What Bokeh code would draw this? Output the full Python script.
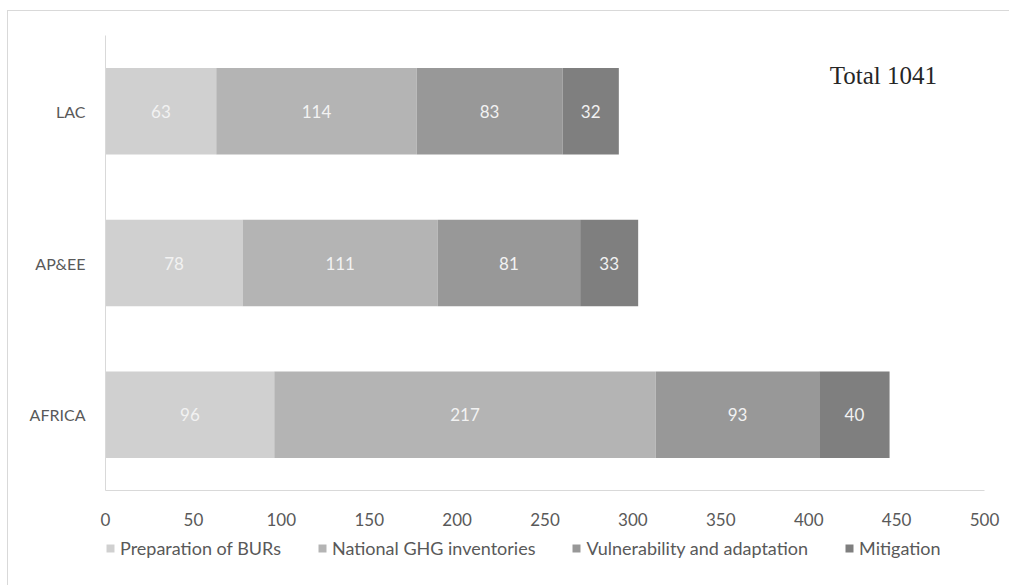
from bokeh.plotting import figure
from bokeh.layouts import column
from bokeh.models import Range1d, Label, Legend, LegendItem, FixedTicker, ColumnDataSource
from bokeh.core.properties import value
from bokeh.embed import file_html
from bokeh.resources import INLINE

# ---- data ----
regions = ["AFRICA", "AP&EE", "LAC"]
series = ["Preparation of BURs", "National GHG inventories",
          "Vulnerability and adaptation", "Mitigation"]
burs = [96, 78, 63]
ghg = [217, 111, 114]
va = [93, 81, 83]
mit = [40, 33, 32]
x_ticks = [0, 50, 100, 150, 200, 250, 300, 350, 400, 450, 500]
total_label = "Total 1041"

colors = ["#d0d0d0", "#b4b4b4", "#989898", "#7f7f7f"]
text_col = "#595959"
axis_col = "#d9d9d9"

ypos = list(range(len(regions)))
data = dict(y=ypos)
for name, vals in zip(series, [burs, ghg, va, mit]):
    data[name] = vals
source = ColumnDataSource(data)

W = 1001
H_MAIN = 522
H_LEG = 52

p = figure(width=W, height=H_MAIN,
           x_range=Range1d(0, 500), y_range=Range1d(-0.5, 2.5),
           output_backend="svg", toolbar_location=None,
           min_border_left=97, min_border_right=25,
           min_border_top=24, min_border_bottom=43)
p.outline_line_color = None
p.xgrid.visible = False
p.ygrid.visible = False

renderers = p.hbar_stack(series, y="y", height=0.57, color=colors,
                         line_color=None, source=source)

# value labels
left = [0] * len(regions)
for vals in [burs, ghg, va, mit]:
    centers = [l + v / 2 for l, v in zip(left, vals)]
    p.text(x=centers, y=ypos, text=[str(v) for v in vals],
           text_align="center", text_baseline="middle",
           text_color="#f2f2f2", text_font=value("Lato"),
           text_font_size="17px")
    left = [l + v for l, v in zip(left, vals)]

# axes
xa = p.xaxis[0]
xa.ticker = FixedTicker(ticks=x_ticks)
ya = p.yaxis[0]
ya.ticker = FixedTicker(ticks=ypos)
ya.major_label_overrides = {i: r for i, r in zip(ypos, regions)}
for ax in (xa, ya):
    ax.axis_line_color = axis_col
    ax.major_tick_line_color = None
    ax.minor_tick_line_color = None
    ax.major_label_text_font = "Lato"
    ax.major_label_text_color = text_col
xa.major_label_text_font_size = "17px"
xa.major_label_standoff = 16
ya.major_label_text_font_size = "16px"
ya.major_label_standoff = 14

# total annotation
p.add_layout(Label(x=412, y=2.236, text=total_label,
                   text_font="Liberation Serif", text_font_size="25px",
                   text_color="#262626", text_baseline="middle"))

# legend strip (separate figure so the legend is not clipped)
lf = figure(width=W, height=H_LEG, output_backend="svg", toolbar_location=None,
            x_axis_type=None, y_axis_type=None,
            x_range=Range1d(0, 1), y_range=Range1d(0, 1),
            min_border=0)
lf.outline_line_color = None
lf.xgrid.visible = False
lf.ygrid.visible = False
# swatch renderers kept outside the visible range; only their legend swatches show
swatch = ColumnDataSource(dict(y=[-10], r=[0]))
leg_rs = [lf.hbar(y="y", right="r", height=0.5, color=c, line_color=None, source=swatch)
          for c in colors]
legend = Legend(items=[LegendItem(label=s, renderers=[r]) for s, r in zip(series, leg_rs)],
                orientation="horizontal", location=(0, 26),
                glyph_width=10, glyph_height=10, label_standoff=5,
                spacing=36, padding=0, margin=0,
                border_line_color=None, background_fill_alpha=0,
                label_text_font="Lato", label_text_font_size="18px",
                label_text_color=text_col, label_height=20)
lf.add_layout(legend)

layout = column(p, lf, spacing=0,
                styles={"border-left": "1px solid #d9d9d9",
                        "border-top": "1px solid #d9d9d9",
                        "margin-top": "10px", "margin-left": "7px"})

open("out.html", "w").write(file_html(layout, INLINE))
